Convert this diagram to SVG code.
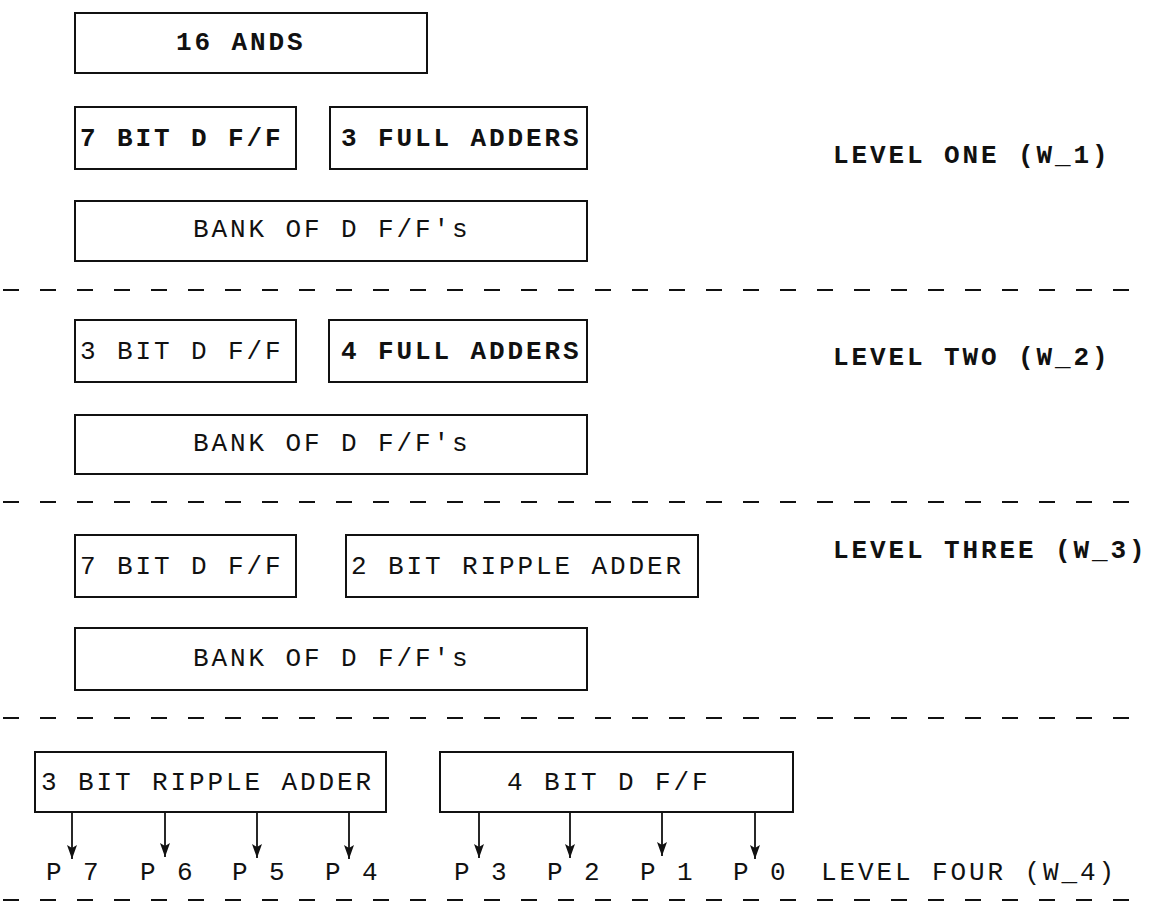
<svg xmlns="http://www.w3.org/2000/svg" width="1149" height="906" viewBox="0 0 1149 906">
<style>
.box{fill:none;stroke:#111;stroke-width:2}
.t{font-family:"Liberation Mono","Courier New",monospace;font-size:26px;fill:#111;letter-spacing:2.9px}
.b{font-weight:bold}
.dash{stroke:#111;stroke-width:2;stroke-dasharray:16 21}
.arr{stroke:#111;stroke-width:1.8;fill:none;marker-end:url(#ah)}
</style>
<defs>
<marker id="ah" viewBox="0 0 10 14" refX="5" refY="14" markerWidth="10" markerHeight="14" markerUnits="userSpaceOnUse" orient="0">
<path d="M0,0 L5,14 L10,0 L5,3 z" fill="#111"/>
</marker>
</defs>
<g id="separators">
<line class="dash" x1="3" y1="290" x2="1149" y2="290"/>
<line class="dash" x1="3" y1="502" x2="1149" y2="502"/>
<line class="dash" x1="3" y1="718" x2="1149" y2="718"/>
<line class="dash" x1="3" y1="900" x2="1149" y2="900"/>
</g>
<g id="n-ands"><rect class="box" x="75" y="13" width="352" height="60"/><text class="t b" x="176" y="50">16 ANDS</text></g>
<g id="n-l1-dff"><rect class="box" x="75" y="107" width="221" height="62"/><text class="t b" x="80" y="146">7 BIT D F/F</text></g>
<g id="n-l1-fa"><rect class="box" x="330" y="107" width="257" height="62"/><text class="t b" x="341" y="146">3 FULL ADDERS</text></g>
<g id="n-l1-bank"><rect class="box" x="75" y="201" width="512" height="60"/><text class="t" x="193" y="237">BANK OF D F/F's</text></g>
<g id="lbl-l1"><text class="t b" x="833" y="163">LEVEL ONE (W_1)</text></g>
<g id="n-l2-dff"><rect class="box" x="75" y="320" width="221" height="62"/><text class="t" x="80" y="359">3 BIT D F/F</text></g>
<g id="n-l2-fa"><rect class="box" x="329" y="320" width="258" height="62"/><text class="t b" x="341" y="359">4 FULL ADDERS</text></g>
<g id="n-l2-bank"><rect class="box" x="75" y="415" width="512" height="59"/><text class="t" x="193" y="451">BANK OF D F/F's</text></g>
<g id="lbl-l2"><text class="t b" x="833" y="365">LEVEL TWO (W_2)</text></g>
<g id="n-l3-dff"><rect class="box" x="75" y="535" width="221" height="62"/><text class="t" x="80" y="574">7 BIT D F/F</text></g>
<g id="n-l3-ra"><rect class="box" x="346" y="535" width="352" height="62"/><text class="t" x="351" y="574">2 BIT RIPPLE ADDER</text></g>
<g id="n-l3-bank"><rect class="box" x="75" y="628" width="512" height="62"/><text class="t" x="193" y="666">BANK OF D F/F's</text></g>
<g id="lbl-l3"><text class="t b" x="833" y="558">LEVEL THREE (W_3)</text></g>
<g id="n-l4-ra"><rect class="box" x="35" y="752" width="351" height="60"/><text class="t" x="41" y="790">3 BIT RIPPLE ADDER</text></g>
<g id="n-l4-dff"><rect class="box" x="440" y="752" width="353" height="60"/><text class="t" x="507" y="790">4 BIT D F/F</text></g>
<g id="connectors">
<line class="arr" x1="72" y1="812" x2="72" y2="859"/>
<line class="arr" x1="165" y1="812" x2="165" y2="857"/>
<line class="arr" x1="257" y1="812" x2="257" y2="858"/>
<line class="arr" x1="349" y1="812" x2="349" y2="859"/>
<line class="arr" x1="479" y1="812" x2="479" y2="858"/>
<line class="arr" x1="570" y1="812" x2="570" y2="858"/>
<line class="arr" x1="662" y1="812" x2="662" y2="856"/>
<line class="arr" x1="755" y1="812" x2="755" y2="859"/>
</g>
<g id="outputs" class="t">
<text x="46" y="880">P 7</text>
<text x="140" y="880">P 6</text>
<text x="232" y="880">P 5</text>
<text x="325" y="880">P 4</text>
<text x="454" y="880">P 3</text>
<text x="547" y="880">P 2</text>
<text x="640" y="880">P 1</text>
<text x="733" y="880">P 0</text>
<text x="821" y="880">LEVEL FOUR (W_4)</text>
</g>
</svg>
